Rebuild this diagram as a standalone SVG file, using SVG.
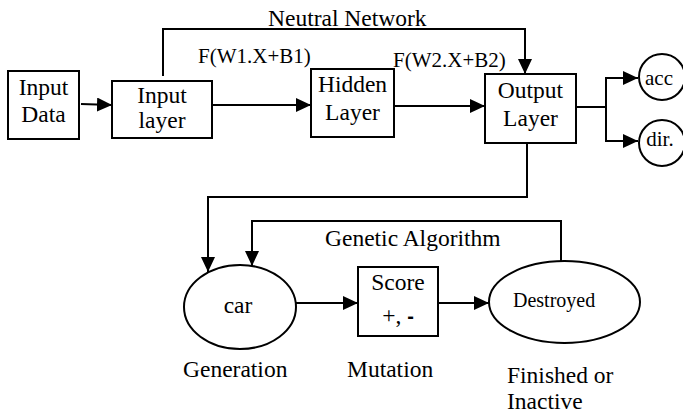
<svg xmlns="http://www.w3.org/2000/svg" width="683" height="415" viewBox="0 0 683 415">
  <style>
    .box { fill: #fff; stroke: #000; stroke-width: 2; }
    .wire { fill: none; stroke: #000; stroke-width: 2; }
    .arr { marker-end: url(#head); }
    text { fill: #000; }
    .lbl { font-size: 23.5px; }
    .mid { text-anchor: middle; }
    .fn { font-size: 21px; }
    .small { font-size: 20px; }
    .out { font-size: 21px; }
  </style>
  <defs>
    <marker id="head" markerUnits="userSpaceOnUse" markerWidth="15" markerHeight="14" refX="15" refY="7" orient="auto">
      <path d="M0,0 L15,7 L0,14 z" fill="#000"/>
    </marker>
  </defs>

  <!-- connectors -->
  <g id="connectors">
    <path class="wire arr" d="M81,104 L112,105"/>
    <path class="wire arr" d="M212,105 H311"/>
    <path class="wire arr" d="M394,106 H485"/>
    <path class="wire arr" d="M163,76 V29 H525 V74"/>
    <path class="wire" d="M576,107 H606"/>
    <path class="wire" d="M606,78 V141"/>
    <path class="wire arr" d="M605,78 H638"/>
    <path class="wire arr" d="M605,141 H638"/>
    <path class="wire arr" d="M527,143 V197 H208 V272"/>
    <path class="wire arr" d="M561,262 V221 H252 V266"/>
    <path class="wire arr" d="M296,303 H358"/>
    <path class="wire arr" d="M438,303 H489"/>
  </g>

  <g font-family="Liberation Serif, Times New Roman, DejaVu Serif, serif">
    <!-- annotations -->
    <g id="annotations">
      <text class="lbl" x="268" y="26">Neutral Network</text>
      <text class="fn" x="198" y="63">F(W1.X+B1)</text>
      <text class="fn" x="393" y="67">F(W2.X+B2)</text>
      <text class="lbl" x="325" y="246">Genetic Algorithm</text>
      <text class="lbl" x="183" y="377">Generation</text>
      <text class="lbl" x="347" y="377">Mutation</text>
      <text class="lbl" x="507" y="383">Finished or</text>
      <text class="lbl" x="507" y="409">Inactive</text>
    </g>

    <!-- network nodes -->
    <g id="input-data">
      <rect class="box" x="8" y="71" width="71" height="68"/>
      <text class="lbl mid" x="43.5" y="95">Input</text>
      <text class="lbl mid" x="43.5" y="122">Data</text>
    </g>
    <g id="input-layer">
      <rect class="box" x="112" y="81" width="100" height="57"/>
      <text class="lbl mid" x="162" y="103">Input</text>
      <text class="lbl mid" x="162" y="128">layer</text>
    </g>
    <g id="hidden-layer">
      <rect class="box" x="311" y="69" width="83" height="68"/>
      <text class="lbl mid" x="352.5" y="92">Hidden</text>
      <text class="lbl mid" x="352.5" y="120">Layer</text>
    </g>
    <g id="output-layer">
      <rect class="box" x="485" y="74" width="91" height="69"/>
      <text class="lbl mid" x="530.5" y="98">Output</text>
      <text class="lbl mid" x="530.5" y="126">Layer</text>
    </g>
    <g id="acc">
      <circle class="box" cx="662" cy="77" r="23"/>
      <text class="out mid" x="659" y="85">acc</text>
    </g>
    <g id="dir">
      <circle class="box" cx="662" cy="143" r="23"/>
      <text class="out mid" x="660" y="146">dir.</text>
    </g>

    <!-- genetic algorithm nodes -->
    <g id="car">
      <ellipse class="box" cx="240" cy="307" rx="56" ry="42"/>
      <text class="lbl mid" x="238" y="313">car</text>
    </g>
    <g id="score">
      <rect class="box" x="358" y="267" width="80" height="69"/>
      <text class="lbl mid" x="398" y="290">Score</text>
      <text class="lbl mid" x="398" y="323">+, <tspan font-family="Liberation Sans, Arial, sans-serif" font-weight="bold" font-size="20">-</tspan></text>
    </g>
    <g id="destroyed">
      <ellipse class="box" cx="564.5" cy="302" rx="75.5" ry="41"/>
      <text class="small" x="513" y="307">Destroyed</text>
    </g>
  </g>
</svg>
